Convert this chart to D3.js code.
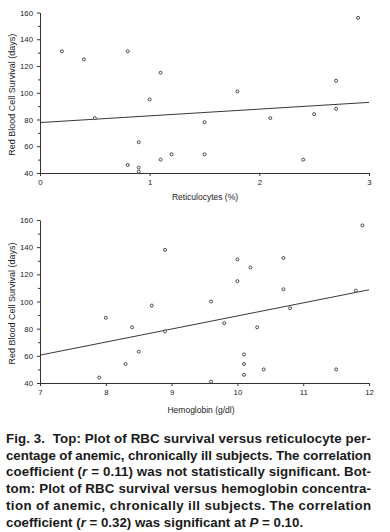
<!DOCTYPE html>
<html>
<head>
<meta charset="utf-8">
<script src="https://cdn.jsdelivr.net/npm/d3@7/dist/d3.min.js"></script>
<style>
  html, body { margin: 0; padding: 0; background: #fff; }
  svg { display: block; }
  text { font-family: "Liberation Sans", Arial, sans-serif; }
</style>
</head>
<body>
<svg id="chart" width="390" height="532"></svg>
<script>
// ---- Data ----
const retic = [0.2, 0.4, 0.5, 0.8, 0.8, 0.9, 0.9, 0.9, 1.0, 1.1, 1.1, 1.2, 1.5, 1.5, 1.8, 2.1, 2.4, 2.5, 2.7, 2.7, 2.9];
const reticSurvival = [131, 125, 81, 131, 46, 63, 44, 41, 95, 115, 50, 54, 78, 54, 101, 81, 50, 84, 109, 88, 156];
const reticFit = [[0, 77.7], [3, 92.8]];
const reticTicks = [0, 1, 2, 3];

const hgb = [7.9, 8.0, 8.3, 8.4, 8.5, 8.7, 8.9, 8.9, 9.6, 9.6, 9.8, 10.0, 10.0, 10.1, 10.1, 10.1, 10.2, 10.3, 10.4, 10.7, 10.7, 10.8, 11.5, 11.8, 11.9];
const hgbSurvival = [44, 88, 54, 81, 63, 97, 138, 78, 100, 41, 84, 131, 115, 61, 54, 46, 125, 81, 50, 132, 109, 95, 50, 108, 156];
const hgbFit = [[7, 60.5], [12, 108.6]];
const hgbTicks = [7, 8, 9, 10, 11, 12];

const survivalTicks = [40, 60, 80, 100, 120, 140, 160];
const yTitle = "Red Blood Cell Survival (days)";
const xTitles = ["Reticulocytes (%)", "Hemoglobin (g/dl)"];

const captionLines = [
  [["Fig. 3.\u00a0\u00a0Top: Plot of RBC survival versus reticulocyte per-", false]],
  [["centage of anemic, chronically ill subjects. The correlation", false]],
  [["coefficient (", false], ["r", true], [" = 0.11) was not statistically significant. Bot-", false]],
  [["tom: Plot of RBC survival versus hemoglobin concentra-", false]],
  [["tion of anemic, chronically ill subjects. The correlation", false]],
  [["coefficient (", false], ["r", true], [" = 0.32) was significant at ", false], ["P", true], [" = 0.10.", false]]
];

// ---- Drawing ----
const svg = d3.select("#chart");
const ink = "#333";

function panel(cfg) {
  const x = d3.scaleLinear().domain(cfg.xDomain).range([40, 369]);
  const y = d3.scaleLinear().domain([40, 160]).range([cfg.bottom, cfg.top]);
  const g = svg.append("g");

  // minor y ticks
  g.append("g")
    .attr("transform", "translate(40,0)")
    .call(d3.axisLeft(y).tickValues(d3.range(50, 160, 20)).tickSize(2).tickFormat(""))
    .call(s => s.select(".domain").remove())
    .call(s => s.selectAll("line").attr("stroke", ink));

  const ya = g.append("g")
    .attr("transform", "translate(40,0)")
    .call(d3.axisLeft(y).tickValues(survivalTicks).tickSize(3).tickPadding(4).tickSizeOuter(0).tickFormat(d3.format("d")));
  ya.selectAll("text").attr("font-size", 7.8).attr("fill", "#222");

  const xa = g.append("g")
    .attr("transform", `translate(0,${cfg.bottom})`)
    .call(d3.axisBottom(x).tickValues(cfg.xTicks).tickSize(3).tickPadding(3).tickSizeOuter(0).tickFormat(d3.format("d")));
  xa.selectAll("text").attr("font-size", 7.8).attr("fill", "#222");
  g.selectAll(".domain").attr("stroke", ink);
  g.selectAll(".tick line").attr("stroke", ink);

  // regression line
  g.append("path")
    .attr("d", d3.line().x(d => x(d[0])).y(d => y(d[1]))(cfg.fit))
    .attr("fill", "none").attr("stroke", "#222").attr("stroke-width", 0.9);

  // points
  g.selectAll("circle").data(cfg.xs).join("circle")
    .attr("cx", d => x(d))
    .attr("cy", (d, i) => y(cfg.ys[i]))
    .attr("r", 1.5)
    .attr("fill", "#fff").attr("stroke", "#222").attr("stroke-width", 0.8);

  // titles
  g.append("text")
    .attr("transform", `translate(15,${(cfg.top + cfg.bottom) / 2 + 2}) rotate(-90)`)
    .attr("text-anchor", "middle").attr("font-size", 9).attr("fill", "#222")
    .text(yTitle);
  g.append("text")
    .attr("x", cfg.xTitleX).attr("y", cfg.xTitleY)
    .attr("text-anchor", "middle").attr("font-size", 8.5).attr("fill", "#222")
    .text(cfg.xTitle);
}

panel({ xDomain: [0, 3], xTicks: reticTicks, top: 12.5, bottom: 173, fit: reticFit,
        xs: retic, ys: reticSurvival, xTitle: xTitles[0], xTitleX: 205, xTitleY: 200 });
panel({ xDomain: [7, 12], xTicks: hgbTicks, top: 220, bottom: 383, fit: hgbFit,
        xs: hgb, ys: hgbSurvival, xTitle: xTitles[1], xTitleX: 201, xTitleY: 413 });

// caption
const cap = svg.append("g");
captionLines.forEach((parts, i) => {
  const t = cap.append("text")
    .attr("x", 6).attr("y", 443 + i * 16.7)
    .attr("font-size", 13.3).attr("font-weight", "bold").attr("fill", "#1a1a1a");
  if (i < captionLines.length - 1) {
    t.attr("textLength", 365).attr("lengthAdjust", "spacing");
  }
  parts.forEach(p => {
    const s = t.append("tspan").text(p[0]);
    if (p[1]) s.attr("font-style", "italic");
  });
});
</script>
</body>
</html>
